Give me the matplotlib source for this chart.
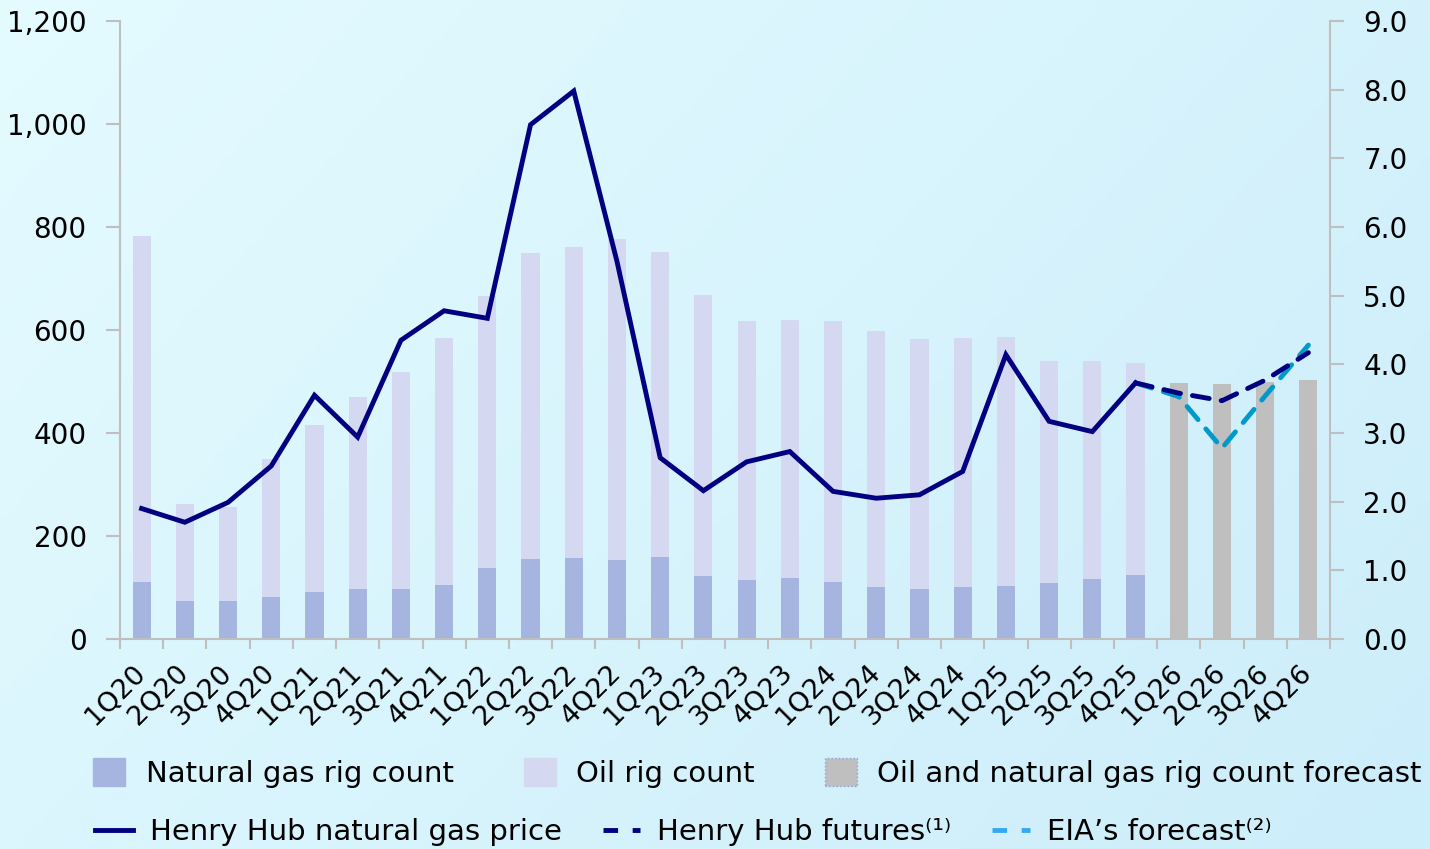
import matplotlib.pyplot as plt
import numpy as np
from matplotlib.lines import Line2D
from matplotlib.patches import Patch

plt.rcParams['font.family'] = ['DejaVu Sans']

quarters = ['1Q20', '2Q20', '3Q20', '4Q20', '1Q21', '2Q21', '3Q21', '4Q21',
            '1Q22', '2Q22', '3Q22', '4Q22', '1Q23', '2Q23', '3Q23', '4Q23',
            '1Q24', '2Q24', '3Q24', '4Q24', '1Q25', '2Q25', '3Q25', '4Q25',
            '1Q26', '2Q26', '3Q26', '4Q26']

# rig counts (actuals through 4Q25)
gas_rigs = [111, 74, 74, 82, 91, 98, 98, 105, 137, 155, 157, 153, 159, 122,
            115, 118, 111, 101, 97, 101, 103, 108, 116, 124]
oil_rigs = [671, 188, 183, 267, 324, 371, 421, 479, 529, 595, 604, 624, 592,
            546, 502, 501, 506, 497, 485, 483, 483, 432, 424, 412]
forecast_rigs = [498, 495, 500, 503]

# Henry Hub price, $/MMBtu
hh_price = [1.90, 1.70, 1.99, 2.52, 3.55, 2.94, 4.35, 4.78, 4.67, 7.49, 7.98,
            5.50, 2.64, 2.16, 2.58, 2.73, 2.15, 2.05, 2.10, 2.44, 4.14, 3.17,
            3.02, 3.73]
# 4Q25 .. 4Q26
hh_futures = [3.73, 3.58, 3.47, 3.77, 4.17]
eia_forecast = [3.73, 3.53, 2.78, 3.54, 4.28]

navy = '#000080'
light_blue = '#0099CC'
grid_gray = '#BFBFBF'

n_act = len(gas_rigs)
x = np.arange(len(quarters))
x_act = x[:n_act]
x_fc = x[n_act:]
x_fut = x[n_act - 1:]

fig = plt.figure(figsize=(14.3, 8.49), dpi=100)

# soft diagonal background
bg = fig.add_axes([0, 0, 1, 1], zorder=-10)
gx, gy = np.meshgrid(np.linspace(0, 1, 300), np.linspace(0, 1, 200))
t = (gx * 0.65 + gy * 0.35)
c0 = np.array([228, 251, 255]) / 255
c1 = np.array([204, 237, 250]) / 255
img = c0[None, None, :] * (1 - t[..., None]) + c1[None, None, :] * t[..., None]
bg.imshow(img, aspect='auto', extent=[0, 1, 0, 1], origin='upper')
bg.axis('off')

ax = fig.add_axes([120 / 1430, 1 - 639 / 849, 1210 / 1430, 618 / 849])
ax.set_facecolor('none')
w = 0.42
ax.bar(x_act, gas_rigs, width=w, color='#A6B4E0', zorder=2)
ax.bar(x_act, oil_rigs, width=w, bottom=gas_rigs, color='#D4D8F0', zorder=2)
ax.bar(x_fc, forecast_rigs, width=w, color='#BFBFBF', zorder=2)

ax.set_xlim(-0.5, len(quarters) - 0.5)
ax.set_ylim(0, 1200)
ax.set_yticks(range(0, 1201, 200))
ax.set_yticklabels([f'{v:,}' for v in range(0, 1201, 200)])

ax.set_xticks(x)
ax.set_xticklabels(quarters, rotation=45, ha='right', va='center',
                   rotation_mode='anchor')
ax.set_xticks(np.arange(-0.5, len(quarters)), minor=True)
ax.tick_params(axis='x', which='major', length=0, pad=22, labelsize=19.5)
ax.tick_params(axis='x', which='minor', length=7, width=1.5, color=grid_gray)
ax.tick_params(axis='y', length=10, width=1.5, color=grid_gray, labelsize=20,
               pad=14)

for s in ['top', 'right']:
    ax.spines[s].set_visible(False)
for s in ['left', 'bottom']:
    ax.spines[s].set_color(grid_gray)
    ax.spines[s].set_linewidth(1.5)

ax2 = ax.twinx()
ax2.set_ylim(0, 9)
ax2.set_yticks(np.arange(0, 9.1, 1))
ax2.set_yticklabels([f'{v:.1f}' for v in np.arange(0, 9.1, 1)])
ax2.tick_params(axis='y', length=10, width=1.5, color=grid_gray, labelsize=20,
                pad=14)
for s in ['top', 'left', 'bottom']:
    ax2.spines[s].set_visible(False)
ax2.spines['right'].set_color(grid_gray)
ax2.spines['right'].set_linewidth(1.5)

ax2.plot(x_fut, eia_forecast, color=light_blue, lw=3.5, ls=(0, (3.5, 2.5)),
         dash_capstyle='round', zorder=3)
ax2.plot(x_fut, hh_futures, color=navy, lw=3.5, ls=(0, (3.5, 2.5)),
         dash_capstyle='round', zorder=4)
ax2.plot(x_act, hh_price, color=navy, lw=3.5, solid_joinstyle='miter',
         zorder=5)

# legend, two rows
bar_handles = [Patch(color='#A6B4E0'), Patch(color='#D4D8F0'),
               Patch(facecolor='#BFBFBF', edgecolor='#8FA0D8', ls=':', lw=1)]
bar_labels = ['Natural gas rig count', 'Oil rig count',
              'Oil and natural gas rig count forecast']
fig.legend(bar_handles, bar_labels, loc='center left',
           bbox_to_anchor=(93 / 1430, 1 - 773 / 849), ncol=3, frameon=False,
           fontsize=21, handlelength=1.1, handleheight=1.1,
           handletextpad=0.7, columnspacing=2.4, borderaxespad=0,
           borderpad=0)

line_handles = [Line2D([], [], color=navy, lw=3.5),
                Line2D([], [], color=navy, lw=3.5, ls=(0, (3, 3))),
                Line2D([], [], color='#33AAEE', lw=3.5, ls=(0, (3, 3)))]
line_labels = ['Henry Hub natural gas price', 'Henry Hub futures\u207d\u00b9\u207e',
               'EIA\u2019s forecast\u207d\u00b2\u207e']
fig.legend(line_handles, line_labels, loc='center left',
           bbox_to_anchor=(95 / 1430, 1 - 832 / 849), ncol=3, frameon=False,
           fontsize=21, handlelength=1.3, handletextpad=0.58,
           columnspacing=1.4, borderaxespad=0, borderpad=0)

fig.savefig('out.png', dpi=100)
